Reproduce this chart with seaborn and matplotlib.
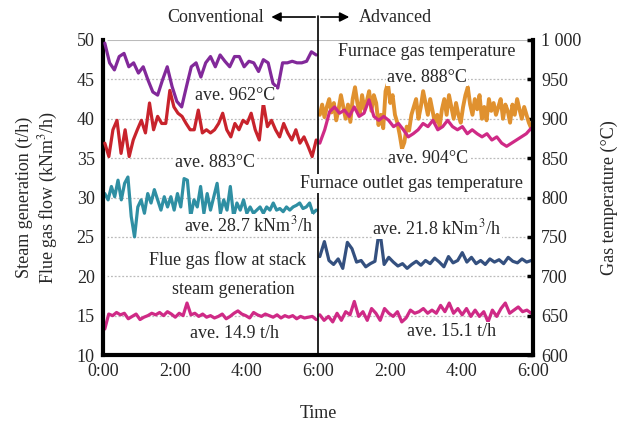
import numpy as np
import matplotlib
matplotlib.use("Agg")
import matplotlib.pyplot as plt
import seaborn as sns
from matplotlib.ticker import MultipleLocator

# ---------------- data ----------------
# Conventional period (0:00-6:00)
furnace_gas_conv = [996, 971, 962, 979, 983, 966, 971, 958, 966, 949, 934, 930, 949, 966, 941,
                    922, 915, 941, 966, 971, 953, 971, 979, 966, 981, 973, 966, 979, 979, 966,
                    973, 971, 960, 975, 971, 945, 939, 971, 971, 973, 971, 971, 973, 985, 981]
outlet_gas_conv = [869, 852, 886, 898, 856, 886, 852, 873, 886, 898, 882, 920, 886, 903, 894,
                   894, 936, 915, 907, 903, 894, 886, 886, 911, 882, 886, 882, 886, 894, 907,
                   886, 877, 894, 886, 898, 894, 907, 886, 873, 920, 890, 898, 886, 877, 894,
                   882, 873, 886, 869, 877, 865, 852, 873]
flue_flow_conv = [30.5, 29.7, 31.4, 30.1, 32.2, 29.7, 31.8, 32.6, 27.6, 25.0, 28.8, 29.7, 28.0,
                  30.5, 29.3, 31.0, 29.7, 28.4, 30.1, 28.8, 30.1, 28.4, 30.5, 28.8, 32.4, 32.2,
                  27.6, 29.7, 28.8, 31.4, 28.0, 30.5, 28.4, 30.1, 31.8, 28.0, 29.7, 28.4, 31.4,
                  27.6, 29.3, 28.4, 29.7, 28.0, 28.8, 28.0, 28.4, 28.8, 28.0, 28.8, 28.4, 29.3,
                  28.4, 28.6, 28.2, 28.8, 28.4, 28.8, 29.0, 29.3, 28.6, 28.8, 29.3, 28.0, 28.4]
steam_conv = [13.3, 15.2, 15.0, 15.4, 15.1, 15.3, 14.6, 14.9, 15.2, 14.5, 14.8, 15.0, 15.3, 15.1,
              15.4, 15.0, 15.5, 15.2, 14.8, 15.3, 15.0, 16.6, 15.1, 15.3, 14.9, 15.2, 14.8, 15.0,
              14.7, 14.9, 15.2, 14.6, 14.9, 15.3, 15.6, 15.2, 15.0, 14.7, 15.4, 15.1, 14.9, 15.2,
              15.0, 14.8, 15.1, 14.7, 15.0, 14.8, 15.0, 14.6, 14.9, 14.7, 14.8, 14.9, 14.5]

# Advanced period (6:00-12:00)
furnace_gas_adv = [905, 918, 902, 915, 925, 908, 920, 898, 912, 930, 915, 900, 918, 896, 925,
                   940, 920, 905, 930, 912, 922, 935, 910, 930, 920, 892, 905, 888, 935, 945,
                   920, 930, 905, 895, 880, 862, 870, 890, 885, 905, 915, 925, 900, 915, 935,
                   920, 905, 925, 910, 895, 905, 890, 912, 925, 905, 930, 915, 900, 920, 905,
                   895, 915, 930, 940, 918, 905, 925, 912, 930, 900, 915, 898, 925, 910, 920,
                   905, 915, 925, 900, 918, 910, 895, 918, 905, 925, 912, 900, 915, 905, 895, 888]
outlet_gas_adv = [869, 886, 909, 915, 907, 911, 903, 915, 903, 907, 924, 903, 898, 903, 898,
                  890, 894, 886, 877, 881, 886, 894, 890, 898, 886, 890, 898, 890, 886, 890,
                  881, 886, 881, 877, 881, 873, 877, 869, 865, 869, 873, 877, 881, 888]
flue_flow_adv = [22.5, 24.4, 22.0, 21.5, 22.2, 21.0, 24.3, 23.5, 21.8, 22.0, 21.2, 21.6, 21.9,
                 26.1, 21.5, 22.4, 21.8, 21.3, 21.6, 21.0, 21.5, 21.9, 21.4, 22.0, 21.6, 22.3,
                 21.8, 21.2, 22.5, 21.7, 22.0, 23.0, 21.8, 22.4, 21.6, 22.0, 21.5, 22.2, 21.8,
                 22.1, 21.6, 22.4, 21.9, 21.7, 22.2, 21.8, 22.0]
steam_adv = [15.1, 14.4, 14.9, 14.2, 15.3, 14.4, 15.5, 15.1, 16.8, 14.9, 15.5, 14.4, 15.9, 15.3,
             14.4, 15.9, 15.3, 14.9, 15.5, 14.2, 14.7, 15.7, 15.3, 15.5, 15.9, 15.3, 15.7, 15.3,
             16.3, 15.5, 16.6, 15.3, 15.9, 15.1, 15.9, 14.9, 15.7, 14.9, 15.5, 14.2, 15.7, 14.9,
             15.9, 16.6, 15.3, 15.7, 16.1, 15.5, 15.7, 15.3]

xtick_pos = [0, 2, 4, 6, 8, 10, 12]
xtick_labels = ["0:00", "2:00", "4:00", "6:00", "2:00", "4:00", "6:00"]

# ---------------- style ----------------
sns.set_theme(style="white")
plt.rcParams["font.family"] = ["Liberation Serif", "DejaVu Serif"]
plt.rcParams["mathtext.fontset"] = "stix"
FS = 13

C_PURPLE = "#82299a"
C_RED = "#c8232c"
C_TEAL = "#2f8fa3"
C_MAGENTA = "#cf2a86"
C_ORANGE = "#e0912f"
C_NAVY = "#34507f"

fig = plt.figure(figsize=(6.33, 4.21), dpi=100)
ax = fig.add_axes([103 / 633, 1 - 355 / 421, 430 / 633, 315 / 421])
ax2 = ax.twinx()


def tgrid(vals, t0, t1):
    return np.linspace(t0, t1, len(vals))


LW = 2.3
# left-axis series
sns.lineplot(x=tgrid(flue_flow_conv, 0.05, 5.95), y=flue_flow_conv, ax=ax, color=C_TEAL, lw=LW)
sns.lineplot(x=tgrid(steam_conv, 0.05, 5.95), y=steam_conv, ax=ax, color=C_MAGENTA, lw=LW)
sns.lineplot(x=tgrid(flue_flow_adv, 6.05, 11.95), y=flue_flow_adv, ax=ax, color=C_NAVY, lw=LW)
sns.lineplot(x=tgrid(steam_adv, 6.05, 11.95), y=steam_adv, ax=ax, color=C_MAGENTA, lw=LW)

# right-axis series
sns.lineplot(x=tgrid(furnace_gas_conv, 0.05, 5.95), y=furnace_gas_conv, ax=ax2, color=C_PURPLE, lw=LW)
sns.lineplot(x=tgrid(outlet_gas_conv, 0.05, 5.95), y=outlet_gas_conv, ax=ax2, color=C_RED, lw=LW)
sns.lineplot(x=tgrid(furnace_gas_adv, 6.05, 11.95), y=furnace_gas_adv, ax=ax2, color=C_ORANGE, lw=2.8)
sns.lineplot(x=tgrid(outlet_gas_adv, 6.05, 11.95), y=outlet_gas_adv, ax=ax2, color=C_MAGENTA, lw=LW)

# axes limits / ticks
ax.set_xlim(0, 12)
ax.set_ylim(10, 50)
ax2.set_ylim(600, 1000)
ax.set_xticks(xtick_pos)
ax.set_xticklabels(xtick_labels, fontsize=FS)
ax.xaxis.set_minor_locator(MultipleLocator(1))
ax.set_yticks(np.arange(10, 51, 5))
ax.set_yticklabels([str(v) for v in range(10, 51, 5)], fontsize=FS)
ax.yaxis.set_minor_locator(MultipleLocator(1))
ax2.set_yticks(np.arange(600, 1001, 50))
ax2.set_yticklabels(["600", "650", "700", "750", "800", "850", "900", "950", "1 000"], fontsize=FS)

ax.tick_params(axis="x", which="both", direction="in", length=4, width=2.5, color="black", pad=6)
ax.tick_params(axis="y", which="major", direction="in", length=3, width=1.0, color="white", pad=6)
ax.tick_params(axis="y", which="minor", direction="in", length=3, width=1.0, color="white")
ax2.tick_params(axis="y", which="major", direction="in", length=4, width=2.5, color="black", pad=6)

for a in (ax, ax2):
    a.spines["top"].set_visible(False)
    for s in ("left", "right", "bottom"):
        a.spines[s].set_linewidth(3)
        a.spines[s].set_color("black")
ax2.spines["left"].set_visible(False)
ax2.spines["bottom"].set_visible(False)
ax.spines["right"].set_visible(False)

# grid
for g in range(15, 50, 5):
    ax.axhline(g, color="#bbbbbb", lw=0.9, ls=(0, (1.5, 1.5)), zorder=0)
ax.axhline(50, color="#bbbbbb", lw=1.5, zorder=0)

ax.set_ylabel("Steam generation (t/h)\nFlue gas flow (kNm$^3$/h)", fontsize=FS, labelpad=12,
              linespacing=1.2)
ax2.set_ylabel("Gas temperature (\u00b0C)", fontsize=FS, labelpad=14)
ax.set_xlabel("Time", fontsize=FS, labelpad=18)

# divider line and arrows
ax2.plot([6, 6], [0, 1.075], transform=ax2.get_xaxis_transform(), color="black", lw=1.2,
         clip_on=False, zorder=3)
ax2.annotate("", xy=(4.62, 1.073), xytext=(6.0, 1.073), xycoords=ax2.get_xaxis_transform(),
             textcoords=ax2.get_xaxis_transform(),
             arrowprops=dict(arrowstyle="-|>", color="black", lw=1.2, mutation_scale=14),
             annotation_clip=False)
ax2.annotate("", xy=(6.95, 1.073), xytext=(6.0, 1.073), xycoords=ax2.get_xaxis_transform(),
             textcoords=ax2.get_xaxis_transform(),
             arrowprops=dict(arrowstyle="-|>", color="black", lw=1.2, mutation_scale=14),
             annotation_clip=False)
ax2.text(4.5, 1.073, "Conventional", transform=ax2.get_xaxis_transform(), ha="right",
         va="center", fontsize=FS)
ax2.text(7.15, 1.073, "Advanced", transform=ax2.get_xaxis_transform(), ha="left",
         va="center", fontsize=FS)

# annotations (positions in left-axis data coordinates)
labels = [
    (3.68, 42.9, "ave. 962\u00b0C"),
    (3.13, 34.5, "ave. 883\u00b0C"),
    (4.05, 26.5, "ave. 28.7 kNm$^3$/h"),
    (3.49, 22.1, "Flue gas flow at stack"),
    (3.63, 18.3, "steam generation"),
    (3.68, 12.7, "ave. 14.9 t/h"),
    (9.04, 48.5, "Furnace gas temperature"),
    (9.04, 45.3, "ave. 888\u00b0C"),
    (9.07, 35.0, "ave. 904\u00b0C"),
    (8.6, 31.8, "Furnace outlet gas temperature"),
    (9.32, 26.1, "ave. 21.8 kNm$^3$/h"),
    (9.74, 13.0, "ave. 15.1 t/h"),
]
for x, y, s in labels:
    ax2.text(x, y, s, transform=ax.transData, ha="center", va="center", fontsize=FS, zorder=5,
             bbox=dict(facecolor="white", edgecolor="none", pad=0.5))

fig.savefig("out.png", dpi=100)
